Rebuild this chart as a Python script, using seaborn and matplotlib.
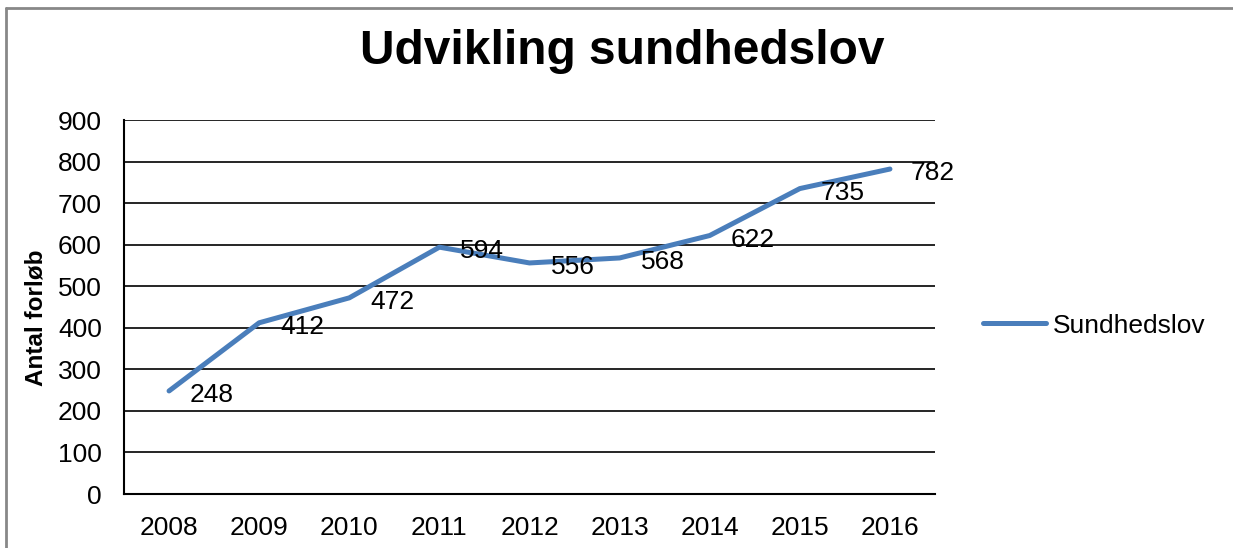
import matplotlib
matplotlib.use('Agg')

import matplotlib.pyplot as plt
import pandas as pd
import seaborn as sns
from matplotlib.lines import Line2D

years = ['2008', '2009', '2010', '2011', '2012', '2013', '2014', '2015', '2016']
forloeb = [248, 412, 472, 594, 556, 568, 622, 735, 782]
series_name = 'Sundhedslov'

df = pd.DataFrame({'year': years, 'value': forloeb})

sns.set_style('white')
plt.rcParams['font.family'] = ['Liberation Sans', 'DejaVu Sans']
plt.rcParams['text.color'] = 'black'
plt.rcParams['xtick.color'] = 'black'
plt.rcParams['ytick.color'] = 'black'
plt.rcParams['axes.labelcolor'] = 'black'

fig = plt.figure(figsize=(12.33, 5.48), dpi=100)
ax = fig.add_axes([124 / 1233, 1 - 494 / 548, (935 - 124) / 1233, (494 - 120) / 548])

sns.lineplot(data=df, x='year', y='value', ax=ax, color='#4a7ebb', linewidth=3.6,
             label=series_name, sort=False)

for i, v in enumerate(forloeb):
    ax.annotate(str(v), (i, v), xytext=(21, -4), textcoords='offset pixels',
                ha='left', va='center', fontsize=19, color='black')

ax.set_xlim(-0.5, len(years) - 0.5)
ax.set_ylim(0, 900)
ax.set_yticks(range(0, 901, 100))
ax.yaxis.grid(True, color='black', linewidth=1.2)
ax.set_axisbelow(True)
ax.tick_params(axis='both', length=0, labelsize=19)
ax.tick_params(axis='y', pad=16)
ax.tick_params(axis='x', pad=16)
ax.set_xlabel('')
ax.set_ylabel('Antal forløb', fontsize=17.5, fontweight='bold')
ax.yaxis.set_label_coords(-0.094, 0.47)
for side in ['top', 'right']:
    ax.spines[side].set_visible(False)
ax.spines['left'].set_color('black')
ax.spines['left'].set_linewidth(1.5)
ax.spines['bottom'].set_color('black')
ax.spines['bottom'].set_linewidth(1.5)

ax.legend(loc='center left', bbox_to_anchor=(1.03, 0.45), frameon=False,
          fontsize=19, handlelength=2.4, handletextpad=0.25)

fig.text(622 / 1233, 1 - 51 / 548, 'Udvikling sundhedslov', ha='center', va='center',
         fontsize=34.5, fontweight='bold')

# outer chart border
fig.add_artist(Line2D([6 / 1233, 6 / 1233], [0, 1 - 8 / 548], color='#888888', linewidth=2))
fig.add_artist(Line2D([6 / 1233, 1], [1 - 8 / 548, 1 - 8 / 548], color='#888888', linewidth=2))

fig.savefig('out.png', dpi=100)
